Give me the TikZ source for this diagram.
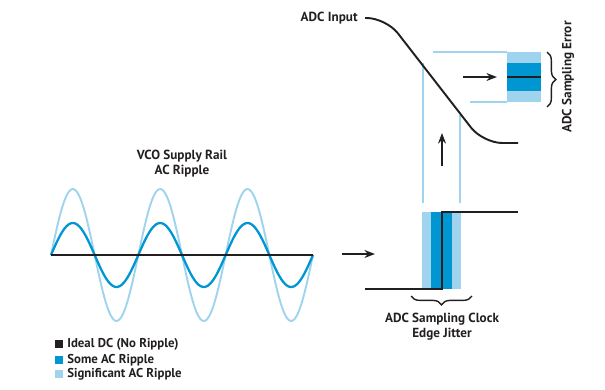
\documentclass[tikz,border=0pt]{standalone}
\usepackage{fontspec}
\setmainfont{PT Sans}
\usepackage{tikz}
\usetikzlibrary{arrows.meta, decorations.pathreplacing, calc}
\definecolor{adiblack}{RGB}{35,31,32}
\definecolor{adiblue}{RGB}{0,150,210}
\definecolor{adilight}{RGB}{160,212,238}
\tikzset{
	labeltext/.style={font=\fontsize{7.5}{8.6}\selectfont\bfseries\color{adiblack}, align=center, inner sep=0pt}
}
\tikzset{
	legendtext/.style={font=\fontsize{7.3}{8}\selectfont\bfseries\color{adiblack}, anchor=west, inner sep=0pt}
}
\newcommand{\swatch}[3]{\fill[#1] ($(#2)+(0,-4)$) rectangle ++(8,8);}

\begin{document}
\begin{tikzpicture}[x=0.02cm, y=-0.02cm, >={Stealth[length=6pt, width=4.5pt]},
    blackline/.style={adiblack, line width=1.1pt},
    lightline/.style={adilight, line width=1.1pt},
    bracket/.style={adiblack, line width=0.8pt, decorate, decoration={brace, amplitude=5pt}}]
      \useasboundingbox (0,0) rectangle (605,389);

      % supply rail ripple
      \node[labeltext] (vco) at (182,164) {VCO Supply Rail\\AC Ripple};
      \draw[adilight, line width=1.1pt, domain=0:262, samples=150, smooth]
        plot (51+\x, {255-66*sin(\x/87.33*360)});
      \draw[adiblue, line width=1.3pt, domain=0:262, samples=150, smooth]
        plot (51+\x, {255-32*sin(\x/87.33*360)});
      \coordinate (dcl) at (51,255);
      \coordinate (dcr) at (313,255);
      \draw[blackline] (dcl) -- (dcr);

      % legend
      \coordinate (lg1) at (55,344);
      \coordinate (lg2) at (55,360);
      \coordinate (lg3) at (55,374);
      \swatch{adiblack}{lg1}{}
      \swatch{adiblue}{lg2}{}
      \swatch{adilight}{lg3}{}
      \node[legendtext] (l1) at (67,344) {Ideal DC (No Ripple)};
      \node[legendtext] (l2) at (67,360) {Some AC Ripple};
      \node[legendtext] (l3) at (67,374) {Significant AC Ripple};

      % clock edge with jitter
      \fill[adilight] (422,212) rectangle (461,289);
      \fill[adiblue] (431,212) rectangle (452,289);
      \coordinate (clklo) at (365,289);
      \coordinate (clkhi) at (518,212);
      \draw[blackline] (clklo) -| (442,212) -- (clkhi);
      \coordinate (jl) at (411,296);
      \coordinate (jr) at (472,296);
      \draw[bracket] (jr) -- (jl);
      \node[labeltext, text depth=0pt] (jit) at (442,325) {ADC Sampling Clock\\Edge Jitter};
      \coordinate (rin) at (342,254);
      \coordinate (rout) at (375,254);
      \draw[blackline, ->] (rin) -- (rout);

      % guide lines
      \draw[lightline] (423,203) -- (423,63);
      \draw[lightline] (460,203) -- (460,115);
      \coordinate (upb) at (442,166);
      \coordinate (upt) at (442,133);
      \draw[blackline, ->] (upb) -- (upt);

      % adc input slope
      \node[labeltext, anchor=east] (adcin) at (358,18) {ADC Input};
      \draw[blackline, rounded corners=11pt] (365,18) -- (386,18) -- (483,143) -- (518,143);

      % sampling error
      \fill[adilight] (507,52) rectangle (541,102);
      \fill[adiblue] (507,63) rectangle (541,91);
      \draw[blackline] (507,77) -- (541,77);
      \draw[lightline] (433,52) -- (507,52);
      \draw[lightline] (470,102) -- (507,102);
      \coordinate (errin) at (463,77);
      \coordinate (errout) at (497,77);
      \draw[blackline, ->] (errin) -- (errout);
      \coordinate (et) at (547,52);
      \coordinate (eb) at (547,107);
      \draw[bracket] (et) -- (eb);
      \node[labeltext, rotate=90] (err) at (568,77) {ADC Sampling Error};
    \end{tikzpicture}
\end{document}
